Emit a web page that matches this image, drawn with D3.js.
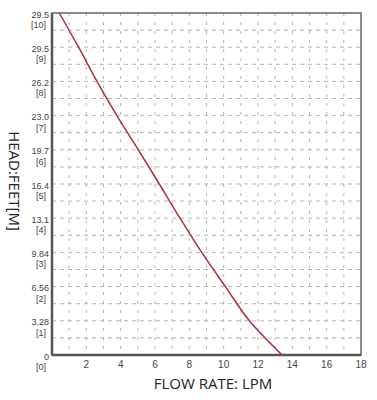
<!DOCTYPE html>
<html>
<head>
<meta charset="utf-8">
<script src="https://cdn.jsdelivr.net/npm/d3@7"></script>
<style>
body { margin: 0; background: #fff; }
text { font-family: "Open Sans", sans-serif; }
.tick { font-family: "Liberation Sans", Arial, sans-serif; fill: #444; }
</style>
</head>
<body>
<script>
// pump curve, flow in LPM vs head in metres
var flow = [0.42, 1.55, 2.62, 3.78, 5.03, 6.25, 7.46, 8.72, 10.1, 11.5, 13.4];
var head = [10, 9, 8, 7, 6, 5, 4, 3, 2, 1, 0];
var feetLabels = ["0", "3.28", "6.56", "9.84", "13.1", "16.4", "19.7", "23.0", "26.2", "29.5", "29.5"];
var xTicks = [2, 4, 6, 8, 10, 12, 14, 16, 18];

var W = 377, H = 400;
var pl = 52, pr = 361, pt = 13, pb = 355;

var svg = d3.select("body").append("svg")
    .attr("width", W)
    .attr("height", H);

var x = d3.scaleLinear().domain([0, 18]).range([pl, pr]);
var y = d3.scaleLinear().domain([0, 10]).range([pb, pt]);

// grid
svg.append("g").selectAll("line")
    .data(d3.range(1, 18))
    .enter().append("line")
    .attr("x1", d => x(d)).attr("x2", d => x(d))
    .attr("y1", pt).attr("y2", pb)
    .style("stroke", "#b5b5b5")
    .style("stroke-width", 1)
    .style("stroke-dasharray", "3 6");

svg.append("g").selectAll("line")
    .data(d3.range(1, 20).map(d => d / 2))
    .enter().append("line")
    .attr("x1", pl).attr("x2", pr)
    .attr("y1", d => y(d)).attr("y2", d => y(d))
    .style("stroke", "#b5b5b5")
    .style("stroke-width", 1)
    .style("stroke-dasharray", "4 4");

// frame
svg.append("rect")
    .attr("x", pl).attr("y", pt)
    .attr("width", pr - pl).attr("height", pb - pt)
    .style("fill", "none")
    .style("stroke", "#666")
    .style("stroke-width", 1.5);
svg.append("line")
    .attr("x1", pl).attr("x2", pl).attr("y1", pt).attr("y2", pb)
    .style("stroke", "#555").style("stroke-width", 2.5);
svg.append("line")
    .attr("x1", pl).attr("x2", pr).attr("y1", pb).attr("y2", pb)
    .style("stroke", "#555").style("stroke-width", 2.5);

// curve
var pts = flow.map((f, i) => [f, head[i]]);
svg.append("path")
    .datum(pts)
    .attr("d", d3.line().x(d => x(d[0])).y(d => y(d[1])).curve(d3.curveMonotoneY))
    .style("fill", "none")
    .style("stroke", "#b0303a")
    .style("stroke-width", 1.5);

// y tick labels: feet over [metres]
var yl = svg.append("g").selectAll("text")
    .data(head)
    .enter().append("text")
    .attr("class", "tick")
    .attr("text-anchor", "end")
    .attr("transform", d => "translate(" + (pl - 3) + "," + y(d) + ")")
    .style("font-size", "9px");
yl.append("tspan")
    .attr("x", 0)
    .attr("y", 4.5)
    .text(d => feetLabels[d]);
yl.append("tspan")
    .attr("x", -3)
    .attr("y", 15)
    .text(d => "[" + d + "]");

// x tick labels
svg.append("g").selectAll("text")
    .data(xTicks)
    .enter().append("text")
    .attr("class", "tick")
    .attr("x", d => x(d))
    .attr("y", pb + 13)
    .attr("text-anchor", "middle")
    .style("font-size", "10px")
    .text(d => d);

// titles
svg.append("text")
    .attr("x", 213)
    .attr("y", 389)
    .attr("text-anchor", "middle")
    .style("font-size", "15px")
    .style("fill", "#222")
    .text("FLOW RATE: LPM");

svg.append("text")
    .attr("transform", "translate(9,181) rotate(90)")
    .attr("text-anchor", "middle")
    .style("font-size", "15px")
    .style("fill", "#222")
    .text("HEAD:FEET[M]");
</script>
</body>
</html>
